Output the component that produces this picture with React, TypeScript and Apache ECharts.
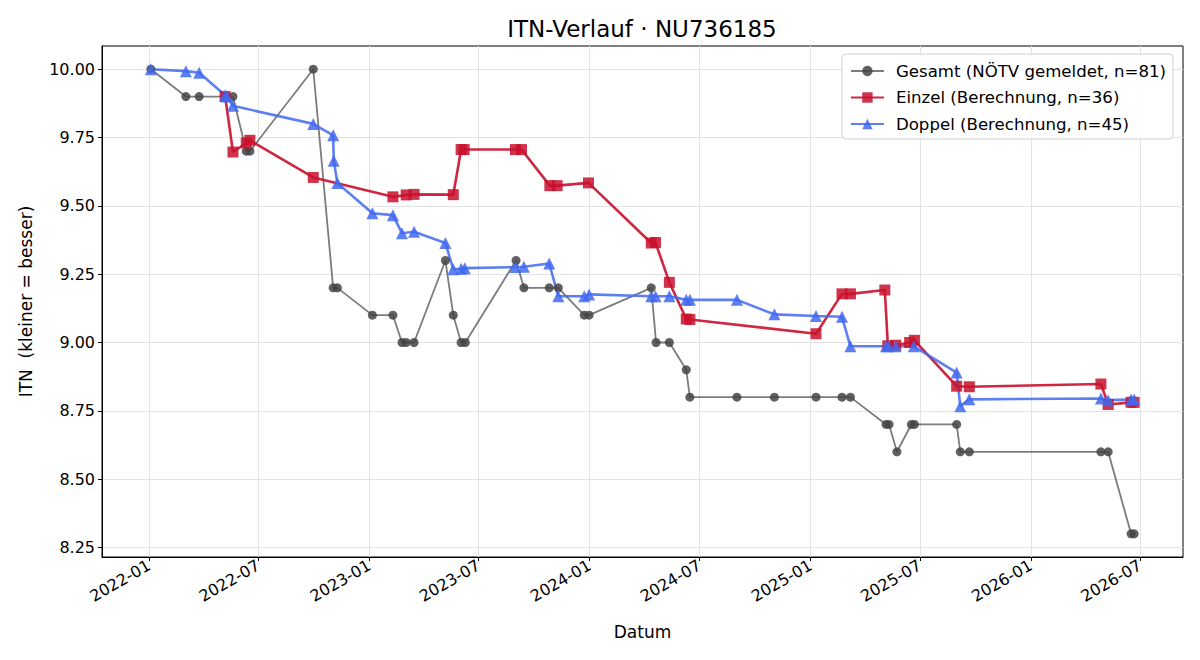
import React, { useEffect, useRef } from "react";
import * as echarts from "echarts";

const gesamtDates = [
  "2022-01-04", "2022-03-03", "2022-03-25", "2022-05-07", "2022-05-20", "2022-06-11", "2022-06-17",
  "2022-09-30", "2022-11-02", "2022-11-09", "2023-01-06", "2023-02-09", "2023-02-24", "2023-03-03",
  "2023-03-16", "2023-05-07", "2023-05-20", "2023-06-02", "2023-06-09", "2023-09-01", "2023-09-14",
  "2023-10-26", "2023-11-10", "2023-12-23", "2023-12-31", "2024-04-12", "2024-04-20", "2024-05-12",
  "2024-06-09", "2024-06-15", "2024-09-01", "2024-11-02", "2025-01-10", "2025-02-22", "2025-03-08",
  "2025-05-06", "2025-05-11", "2025-05-24", "2025-06-17", "2025-06-22", "2025-08-31", "2025-09-06",
  "2025-09-21", "2026-04-27", "2026-05-09", "2026-06-16", "2026-06-21",
];
const gesamtValues = [
  10.0, 9.9, 9.9, 9.9, 9.9, 9.7, 9.7,
  10.0, 9.2, 9.2, 9.1, 9.1, 9.0, 9.0,
  9.0, 9.3, 9.1, 9.0, 9.0, 9.3, 9.2,
  9.2, 9.2, 9.1, 9.1, 9.2, 9.0, 9.0,
  8.9, 8.8, 8.8, 8.8, 8.8, 8.8, 8.8,
  8.7, 8.7, 8.6, 8.7, 8.7, 8.7, 8.6,
  8.6, 8.6, 8.6, 8.3, 8.3,
];

const einzelDates = [
  "2022-05-07", "2022-05-20", "2022-06-11", "2022-06-17", "2022-09-30", "2023-02-09", "2023-03-03",
  "2023-03-16", "2023-05-20", "2023-06-02", "2023-06-07", "2023-08-31", "2023-09-10", "2023-10-27",
  "2023-11-08", "2023-12-30", "2024-04-12", "2024-04-19", "2024-05-12", "2024-06-09", "2024-06-15",
  "2025-01-10", "2025-02-22", "2025-03-08", "2025-05-04", "2025-05-09", "2025-05-22", "2025-06-14",
  "2025-06-22", "2025-08-31", "2025-09-21", "2026-04-27", "2026-05-09", "2026-06-16", "2026-06-21",
];
const einzelValues = [
  9.90, 9.697, 9.73, 9.74, 9.604, 9.533, 9.54,
  9.542, 9.541, 9.706, 9.706, 9.706, 9.706, 9.574,
  9.574, 9.584, 9.364, 9.366, 9.22, 9.086, 9.084,
  9.032, 9.178, 9.178, 9.192, 8.988, 8.99, 9.0,
  9.008, 8.84, 8.838, 8.848, 8.773, 8.781, 8.781,
];

const doppelDates = [
  "2022-01-04", "2022-03-03", "2022-03-25", "2022-05-07", "2022-05-10", "2022-05-20", "2022-09-30",
  "2022-11-02", "2022-11-03", "2022-11-09", "2023-01-06", "2023-02-09", "2023-02-24", "2023-03-16",
  "2023-05-07", "2023-05-20", "2023-06-02", "2023-06-08", "2023-08-31", "2023-09-14", "2023-10-26",
  "2023-11-10", "2023-12-23", "2023-12-31", "2024-04-12", "2024-04-19", "2024-05-12", "2024-06-09",
  "2024-06-15", "2024-09-01", "2024-11-02", "2025-01-10", "2025-02-22", "2025-03-08", "2025-05-06",
  "2025-05-10", "2025-05-22", "2025-06-21", "2025-08-31", "2025-09-06", "2025-09-21", "2026-04-27",
  "2026-05-09", "2026-06-16", "2026-06-21",
];
const doppelValues = [
  10.0, 9.993, 9.987, 9.905, 9.90, 9.866, 9.80,
  9.758, 9.665, 9.584, 9.473, 9.466, 9.40, 9.405,
  9.364, 9.268, 9.27, 9.272, 9.276, 9.277, 9.289,
  9.169, 9.169, 9.176, 9.169, 9.169, 9.169, 9.156,
  9.156, 9.156, 9.103, 9.097, 9.094, 8.986, 8.986,
  8.986, 8.986, 8.986, 8.89, 8.767, 8.792, 8.795,
  8.789, 8.791, 8.791,
];

const xTickLabels = [
  "2022-01-01", "2022-07-01", "2023-01-01", "2023-07-01", "2024-01-01",
  "2024-07-01", "2025-01-01", "2025-07-01", "2026-01-01", "2026-07-01",
];
const yTickValues = [8.25, 8.5, 8.75, 9.0, 9.25, 9.5, 9.75, 10.0];

const FONT = "DejaVu Sans";

function ts(s: string) {
  const [y, m, d] = s.split("-").map(Number);
  return Date.UTC(y, m - 1, d);
}

function pairs(d: string[], v: number[]) {
  return d.map((x, i) => [ts(x), v[i]]);
}

export default function App() {
  const ref = useRef<HTMLDivElement>(null);
  useEffect(() => {
    if (!ref.current) return;
    const chart = echarts.init(ref.current, undefined, { renderer: "svg" });
    const xTicks = xTickLabels.map(ts);
    chart.setOption({
      animation: false,
      textStyle: { fontFamily: FONT },
      graphic: [
        {
          type: "text",
          x: 642,
          y: 29,
          style: {
            text: "ITN-Verlauf · NU736185",
            fontFamily: FONT,
            fontSize: 23,
            fill: "#000",
            textAlign: "center",
            textVerticalAlign: "middle",
          },
        },
      ],
      grid: {
        left: 102,
        right: 17,
        top: 46,
        bottom: 103,
        show: true,
        borderColor: "#000",
        borderWidth: 1,
        backgroundColor: "transparent",
      },
      legend: {
        right: 27,
        top: 54,
        orient: "vertical",
        align: "left",
        backgroundColor: "rgba(255,255,255,0.85)",
        borderColor: "#d0d0d0",
        borderWidth: 1,
        borderRadius: 4,
        padding: [7, 7, 5, 8],
        itemWidth: 33,
        itemHeight: 13,
        itemGap: 6.5,
        textStyle: {
          fontFamily: FONT,
          fontSize: 16.6,
          lineHeight: 20,
          color: "#000",
          padding: [0, 0, 0, 7],
        },
        data: [
          "Gesamt (NÖTV gemeldet, n=81)",
          "Einzel (Berechnung, n=36)",
          "Doppel (Berechnung, n=45)",
        ],
      },
      xAxis: {
        type: "value",
        min: ts("2021-10-15"),
        max: ts("2026-09-10"),
        name: "Datum",
        nameLocation: "middle",
        nameGap: 66,
        nameTextStyle: { fontFamily: FONT, fontSize: 17, color: "#000" },
        axisLine: { show: true, onZero: false, lineStyle: { color: "#000", width: 1 } },
        axisTick: { show: true, length: 4, lineStyle: { color: "#000" }, customValues: xTicks },
        axisLabel: {
          customValues: xTicks,
          rotate: 30,
          fontFamily: FONT,
          fontSize: 16,
          color: "#000",
          margin: 7,
          formatter: (v: number) => {
            const d = new Date(v);
            const m = d.getUTCMonth() + 1;
            return d.getUTCFullYear() + "-" + (m < 10 ? "0" + m : "" + m);
          },
        },
        splitLine: { show: true, lineStyle: { color: "#e3e3e3", width: 1 } },
      },
      yAxis: {
        type: "value",
        min: 8.215,
        max: 10.085,
        name: "ITN  (kleiner = besser)",
        nameLocation: "middle",
        nameGap: 68,
        nameRotate: 90,
        nameTextStyle: { fontFamily: FONT, fontSize: 17, color: "#000" },
        axisLine: { show: true, onZero: false, lineStyle: { color: "#000", width: 1 } },
        axisTick: { show: true, length: 4, lineStyle: { color: "#000" }, customValues: yTickValues },
        axisLabel: {
          customValues: yTickValues,
          fontFamily: FONT,
          fontSize: 16,
          color: "#000",
          margin: 7,
          formatter: (v: number) => v.toFixed(2),
        },
        splitLine: { show: true, lineStyle: { color: "#e3e3e3", width: 1 } },
      },
      series: [
        {
          name: "Gesamt (NÖTV gemeldet, n=81)",
          type: "line",
          data: pairs(gesamtDates, gesamtValues),
          symbol: "circle",
          symbolSize: 9,
          showAllSymbol: true,
          lineStyle: { color: "#444444", width: 1.8, opacity: 0.7 },
          itemStyle: { color: "#444444", opacity: 0.85 },
          emphasis: { disabled: true },
        },
        {
          name: "Einzel (Berechnung, n=36)",
          type: "line",
          data: pairs(einzelDates, einzelValues),
          symbol: "rect",
          symbolSize: 11,
          showAllSymbol: true,
          lineStyle: { color: "#C8102E", width: 2.6, opacity: 0.9 },
          itemStyle: { color: "#C8102E", opacity: 0.85 },
          emphasis: { disabled: true },
        },
        {
          name: "Doppel (Berechnung, n=45)",
          type: "line",
          data: pairs(doppelDates, doppelValues),
          symbol: "triangle",
          symbolSize: 12,
          showAllSymbol: true,
          lineStyle: { color: "#4169F0", width: 2.6, opacity: 0.85 },
          itemStyle: { color: "#4169F0", opacity: 0.85 },
          emphasis: { disabled: true },
        },
      ],
    });
    return () => chart.dispose();
  }, []);
  return <div ref={ref} style={{ width: 1200, height: 660, margin: -8 }} />;
}
